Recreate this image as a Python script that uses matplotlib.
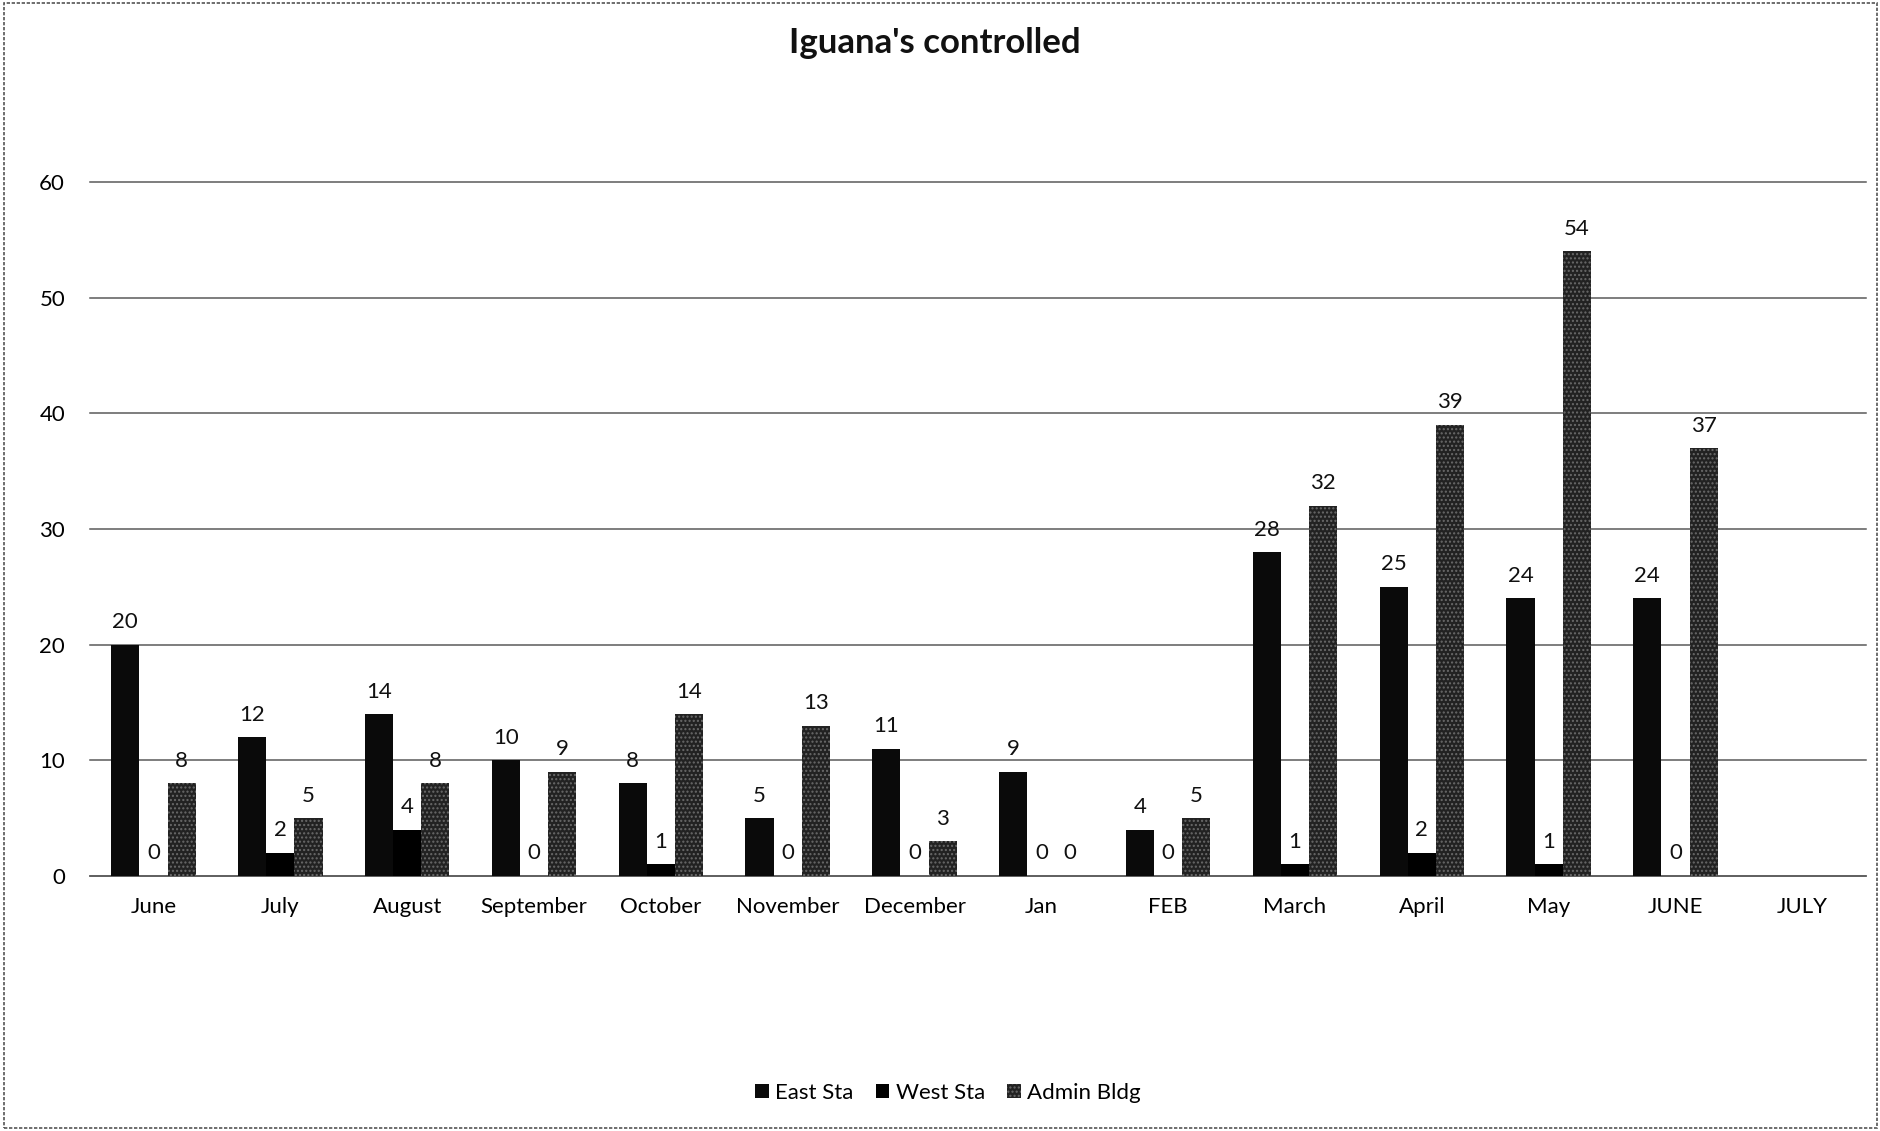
import matplotlib
matplotlib.use("Agg")
import matplotlib.pyplot as plt
import numpy as np
from matplotlib.patches import Rectangle

months = ["June", "July", "August", "September", "October", "November", "December",
          "Jan", "FEB", "March", "April", "May", "JUNE", "JULY"]
east_sta = [20, 12, 14, 10, 8, 5, 11, 9, 4, 28, 25, 24, 24, None]
west_sta = [0, 2, 4, 0, 1, 0, 0, 0, 0, 1, 2, 1, 0, None]
admin_bldg = [8, 5, 8, 9, 14, 13, 3, 0, 5, 32, 39, 54, 37, None]
series_names = ["East Sta", "West Sta", "Admin Bldg"]
y_ticks = [0, 10, 20, 30, 40, 50, 60]

plt.rcParams["font.family"] = ["Lato", "DejaVu Sans"]

fig = plt.figure(figsize=(18.81, 11.31), dpi=100)
ax = fig.add_axes([0.0479, 0.2255, 0.944, 0.6136])

x = np.arange(len(months))
width = 0.222
styles = [
    dict(color="#0a0a0a"),
    dict(color="#000000"),
    dict(color="#222222", hatch="....", edgecolor="#6a6a6a", linewidth=0),
]
handles = []
for i, (vals, name, st) in enumerate(zip([east_sta, west_sta, admin_bldg], series_names, styles)):
    xs = [xi + (i - 1) * width for xi, v in zip(x, vals) if v is not None]
    vs = [v for v in vals if v is not None]
    bars = ax.bar(xs, vs, width=width, label=name, zorder=3, **st)
    handles.append(bars)
    for bx, v in zip(xs, vs):
        ax.annotate(str(v), (bx, v), xytext=(0, 9), textcoords="offset points",
                    ha="center", va="bottom", fontsize=16, color="#111111",
                    zorder=4, annotation_clip=False)

ax.set_xlim(-0.5, len(months) - 0.5)
ax.set_ylim(0, 60)
ax.set_yticks(y_ticks)
ax.set_xticks(x)
ax.set_xticklabels(months, fontsize=16)
ax.tick_params(axis="x", length=0, pad=15)
ax.tick_params(axis="y", length=0, pad=18, labelsize=16)
ax.yaxis.grid(True, color="#5a5a5a", linewidth=1.1, zorder=0)
ax.set_axisbelow(True)
for s in ["top", "right", "left"]:
    ax.spines[s].set_visible(False)
ax.spines["bottom"].set_color("#5a5a5a")
ax.spines["bottom"].set_linewidth(1.1)
for gl in ax.get_ygridlines():
    gl.set_clip_on(False)

fig.text(0.497, 0.962, "Iguana's controlled", ha="center", va="center",
         fontsize=25, fontweight="bold", color="#111111")

fig.legend(handles=handles, labels=series_names, loc="center",
           bbox_to_anchor=(0.504, 0.034), ncol=3, frameon=False, fontsize=16,
           handlelength=0.6, handleheight=0.6, handletextpad=0.3, columnspacing=1.0)

fig.patches.append(Rectangle((0.002, 0.003), 0.996, 0.994, transform=fig.transFigure,
                             fill=False, edgecolor="#555555", linewidth=1.2,
                             linestyle=(0, (2, 1))))

fig.savefig("out.png", dpi=100, facecolor="white")
